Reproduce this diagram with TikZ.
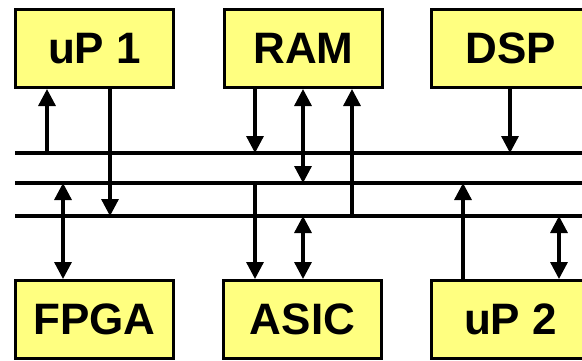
\documentclass[tikz,border=0pt]{standalone}
\usepackage{fontspec}
\setmainfont{Liberation Sans}
\usetikzlibrary{arrows.meta}
\definecolor{boxyellow}{RGB}{255,255,128}
\begin{document}
\begin{tikzpicture}[x=1pt,y=-1pt,
  box/.style={draw=black, line width=3pt, fill=boxyellow, minimum width=158pt, minimum height=78pt, inner sep=0pt, font=\fontsize{44}{44}\selectfont\bfseries},
  bus/.style={line width=3.3pt},
  conn/.style={line width=3.3pt, -{Triangle[width=17pt,length=17pt]}},
  bconn/.style={line width=3.3pt, {Triangle[width=17pt,length=17pt]}-{Triangle[width=17pt,length=17pt]}}]
\useasboundingbox (0,0) rectangle (582,360);
\clip (0,0) rectangle (582,360);
% boxes
\node[box] (up1)  at (94.5,48.5)  {uP 1};
\node[box] (ram)  at (303.5,48.5) {RAM};
\node[box] (dsp)  at (510.5,48.5) {DSP};
\node[box] (fpga) at (94.5,319.5) {FPGA};
\node[box] (asic) at (302.5,319.5) {ASIC};
\node[box] (up2)  at (510.5,319.5) {uP 2};
% buses
\coordinate (b1l) at (15,153); \coordinate (b1r) at (600,153);
\coordinate (b2l) at (15,183); \coordinate (b2r) at (600,183);
\coordinate (b3l) at (15,216); \coordinate (b3r) at (600,216);
\draw[bus] (b1l) -- (b1r);
\draw[bus] (b2l) -- (b2r);
\draw[bus] (b3l) -- (b3r);
% connection points
\coordinate (pA) at (47,153);
\coordinate (pB) at (110,216);
\coordinate (pC) at (63,183);
\coordinate (pD) at (255,153);
\coordinate (pE) at (303,183);
\coordinate (pF) at (352,216);
\coordinate (pG) at (255,183);
\coordinate (pH) at (303,216);
\coordinate (pI) at (510,153);
\coordinate (pJ) at (463,183);
\coordinate (pK) at (559,216);
% connectors
\draw[conn] (pA) -- (pA |- up1.south);
\draw[conn] (pB |- up1.south) -- (pB);
\draw[bconn] (pC) -- (pC |- fpga.north);
\draw[conn] (pD |- ram.south) -- (pD);
\draw[bconn] (pE |- ram.south) -- (pE);
\draw[conn] (pF) -- (pF |- ram.south);
\draw[conn] (pG) -- (pG |- asic.north);
\draw[bconn] (pH) -- (pH |- asic.north);
\draw[conn] (pI |- dsp.south) -- (pI);
\draw[conn] (pJ |- up2.north) -- (pJ);
\draw[bconn] (pK) -- (pK |- up2.north);
\end{tikzpicture}
\end{document}
